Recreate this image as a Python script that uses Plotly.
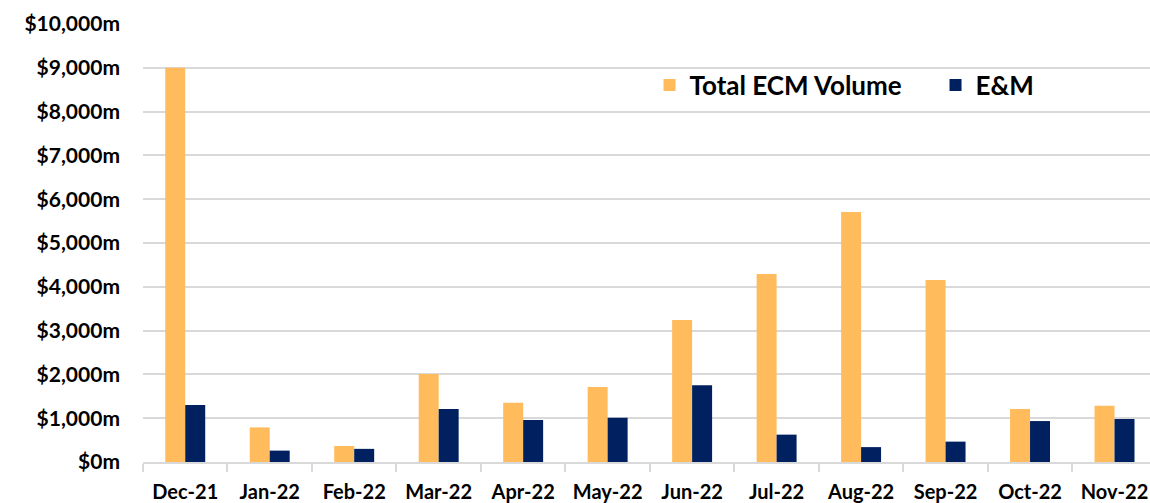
import plotly.graph_objects as go

months = ["Dec-21", "Jan-22", "Feb-22", "Mar-22", "Apr-22", "May-22",
          "Jun-22", "Jul-22", "Aug-22", "Sep-22", "Oct-22", "Nov-22"]
total_ecm = [9000, 790, 365, 2010, 1350, 1710, 3240, 4290, 5710, 4155, 1210, 1285]
em = [1300, 260, 300, 1210, 960, 1010, 1750, 625, 340, 465, 935, 980]
y_ticks = list(range(0, 10001, 1000))
y_tick_text = ["${:,}m".format(v) for v in y_ticks]

fig = go.Figure()
fig.add_trace(go.Bar(x=months, y=total_ecm, name="Total ECM Volume",
                     marker=dict(color="#FFBB5C", line=dict(width=0))))
fig.add_trace(go.Bar(x=months, y=em, name="E&M",
                     marker=dict(color="#002060", line=dict(width=0))))

fig.update_layout(
    width=1150, height=503,
    margin=dict(l=143, r=0, t=24, b=41, autoexpand=False),
    paper_bgcolor="white", plot_bgcolor="white",
    barmode="group", bargap=0.527, bargroupgap=0,
    font=dict(family="Lato", color="black"),
    legend=dict(orientation="h", xref="container", yref="container",
                x=0.5648, y=0.831, xanchor="left", yanchor="middle",
                font=dict(size=26, family="Lato", weight="bold"),
                bgcolor="rgba(0,0,0,0)", entrywidth=241, entrywidthmode="pixels",
                itemclick=False),
    xaxis=dict(range=[-0.5, 11.42], showgrid=False, showline=True,
               linecolor="#d9d9d9", linewidth=1.5,
               ticks="outside", ticklen=8, tickcolor="#d9d9d9", tickwidth=1.5,
               tickson="boundaries", tickangle=0,
               tickfont=dict(size=20, family="Lato", weight="bold", color="black"),
               ticklabelstandoff=11),
    yaxis=dict(range=[0, 10000], tickvals=y_ticks, ticktext=y_tick_text,
               showgrid=True, gridcolor="#d9d9d9", gridwidth=1.5,
               zeroline=False, showline=False,
               tickfont=dict(size=21, family="Lato", weight="bold", color="black"),
               ticklabelstandoff=22),
)

fig.write_html("out.html", config={"displayModeBar": False},
               post_script="document.body.style.margin='0';document.body.style.overflow='hidden';")
